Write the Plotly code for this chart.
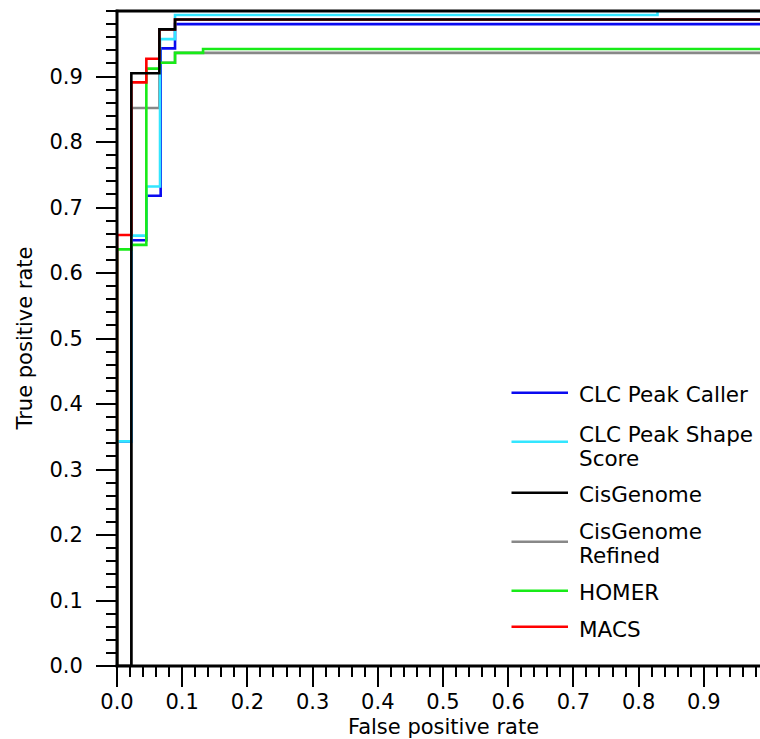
import plotly.graph_objects as go

# ROC step curves: false positive rate (x) and true positive rate (y) at each step
series_names = ["CLC Peak Caller", "CLC Peak Shape\nScore", "CisGenome",
                "CisGenome\nRefined", "HOMER", "MACS"]
series_colors = ["#0a0af0", "#33e6ff", "#000000", "#888888", "#18eb18", "#ff0000"]

fpr_clc_caller = [0.0, 0.0, 0.022, 0.045, 0.067, 0.089, 1.0]
tpr_clc_caller = [0.0, 0.343, 0.650, 0.718, 0.943, 0.980, 0.980]

fpr_clc_shape = [0.0, 0.0, 0.022, 0.045, 0.066, 0.089, 0.829, 1.0]
tpr_clc_shape = [0.0, 0.343, 0.657, 0.732, 0.957, 0.994, 1.0, 1.0]

fpr_cisgenome = [0.0, 0.022, 0.065, 0.089, 1.0]
tpr_cisgenome = [0.0, 0.905, 0.972, 0.987, 0.987]

fpr_cis_refined = [0.0, 0.022, 0.065, 0.089, 1.0]
tpr_cis_refined = [0.0, 0.852, 0.921, 0.936, 0.936]

fpr_homer = [0.0, 0.0, 0.022, 0.045, 0.065, 0.089, 0.132, 1.0]
tpr_homer = [0.0, 0.636, 0.643, 0.912, 0.921, 0.936, 0.942, 0.942]

fpr_macs = [0.0, 0.0, 0.022, 0.045, 0.065, 0.089, 1.0]
tpr_macs = [0.0, 0.658, 0.891, 0.927, 0.972, 0.987, 0.987]

curves = [
    (fpr_clc_caller, tpr_clc_caller),
    (fpr_clc_shape, tpr_clc_shape),
    (fpr_cisgenome, tpr_cisgenome),
    (fpr_cis_refined, tpr_cis_refined),
    (fpr_homer, tpr_homer),
    (fpr_macs, tpr_macs),
]

major_ticks = [0.0, 0.1, 0.2, 0.3, 0.4, 0.5, 0.6, 0.7, 0.8, 0.9]
tick_labels = ["0.0", "0.1", "0.2", "0.3", "0.4", "0.5", "0.6", "0.7", "0.8", "0.9"]

FONT = "DejaVu Sans"
W, H = 760, 739
PL, PR, PT, PB = 117, 760, 11, 666
X_PX_PER_UNIT = 652.0


def px_x(px):
    return (px - PL) / (PR - PL)


def px_y(py):
    return (PB - py) / (PB - PT)


fig = go.Figure()

# stacking order: black on top, grey underneath
draw_order = [3, 0, 1, 4, 5, 2]
for i in draw_order:
    xs, ys = curves[i]
    fig.add_trace(go.Scatter(
        x=xs, y=ys, mode="lines", line_shape="hv",
        line=dict(color=series_colors[i], width=2.6),
        name=series_names[i].replace("\n", " "), showlegend=False,
        hoverinfo="skip",
    ))

# plot frame: left, bottom and top edges drawn over the curves
frame = dict(type="line", xref="paper", yref="paper", layer="above",
             line=dict(color="black", width=3))
fig.add_shape(x0=0, x1=0, y0=-0.002, y1=1.002, **frame)
fig.add_shape(x0=-0.002, x1=1, y0=0, y1=0, **frame)
fig.add_shape(x0=-0.002, x1=1, y0=1, y1=1, **frame)

# legend: sample line plus label lines for each series
legend_line_y = [392.7, 441.7, 492.7, 541.7, 590.7, 626.7]
legend_text_y = [392.8, 433.4, 492.8, 529.5, 591.3, 627.8]
text_pitch = 24
for i, name in enumerate(series_names):
    fig.add_shape(type="line", xref="paper", yref="paper",
                  x0=px_x(511.5), x1=px_x(568), y0=px_y(legend_line_y[i]),
                  y1=px_y(legend_line_y[i]),
                  line=dict(color=series_colors[i], width=2.6))
    for k, line in enumerate(name.split("\n")):
        fig.add_annotation(xref="paper", yref="paper", x=px_x(577),
                           y=px_y(legend_text_y[i] + k * text_pitch + 1.5),
                           xanchor="left", yanchor="middle", showarrow=False,
                           text=line, font=dict(family=FONT, size=21.5, color="black"))

# axis titles
fig.add_annotation(xref="x", yref="paper", x=0.5, y=px_y(727), xanchor="center",
                   yanchor="middle", showarrow=False, text="False positive rate",
                   font=dict(family=FONT, size=21, color="black"))
fig.add_annotation(xref="paper", yref="y", x=px_x(24), y=0.5, xanchor="center",
                   yanchor="middle", showarrow=False, textangle=-90,
                   text="True positive rate",
                   font=dict(family=FONT, size=21, color="black"))

axis_common = dict(
    showgrid=False, zeroline=False, showline=False,
    ticks="outside", ticklen=20, tickwidth=2, tickcolor="black",
    tickvals=major_ticks, ticktext=tick_labels,
    tickfont=dict(family=FONT, size=21, color="black"),
    minor=dict(ticks="outside", ticklen=10, tickwidth=2, tickcolor="black",
               dtick=0.02, tick0=0),
)

fig.update_xaxes(range=[0, (PR - PL) / X_PX_PER_UNIT], ticklabelstandoff=-3,
                 **axis_common)
fig.update_yaxes(range=[0, 1.0], ticklabelstandoff=9, **axis_common)

fig.update_layout(
    width=W, height=H,
    margin=dict(l=PL, r=W - PR, t=PT, b=H - PB),
    paper_bgcolor="white", plot_bgcolor="white",
    showlegend=False,
    font=dict(family=FONT, size=21, color="black"),
)

fig.write_html("out.html")
